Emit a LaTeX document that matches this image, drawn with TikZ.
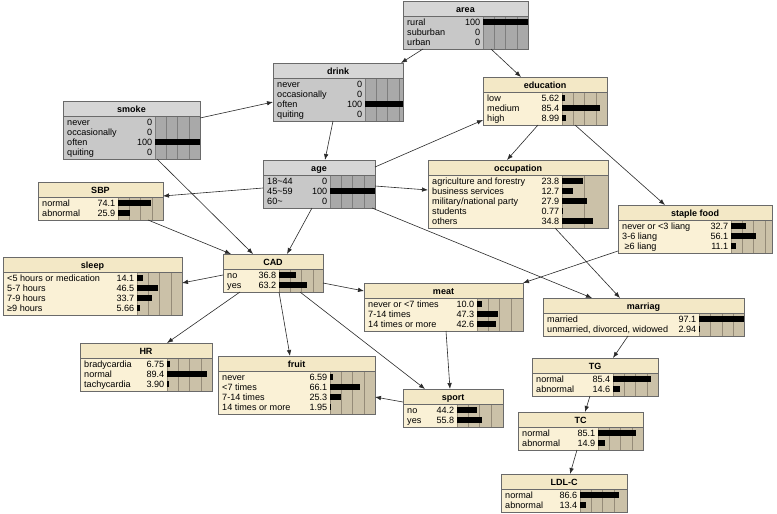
\documentclass[tikz,border=0pt]{standalone}
\usepackage{fontspec}
\setmainfont{Liberation Sans}
\usetikzlibrary{calc,arrows.meta}
\definecolor{gtitle}{HTML}{D6D6D6}
\definecolor{gbody}{HTML}{C8C8C8}
\definecolor{gbar}{HTML}{A9A9A9}
\definecolor{ggrid}{HTML}{7E7E7E}
\definecolor{btitle}{HTML}{F3E8C6}
\definecolor{bbody}{HTML}{FAF1D6}
\definecolor{bbar}{HTML}{CBC1A8}
\definecolor{bgrid}{HTML}{958B78}
\definecolor{nborder}{HTML}{6A6A6A}
\definecolor{edgec}{HTML}{2A2A2A}
\tikzset{
 netbox/.style={draw=nborder, line width=0.7pt, inner sep=0pt, outer sep=0pt},
 titletext/.style={font=\fontsize{9}{10}\selectfont\bfseries, inner sep=0pt, anchor=base},
 rowtext/.style={font=\fontsize{9.1}{10}\selectfont, inner sep=0pt},
 edge/.style={draw=edgec, line width=0.6pt, -{Latex[length=6pt,width=4.5pt]}},
}
% #1 name #2 left #3 top #4 right #5 nrows #6 barx #7 scale #8 kind #9 title
\newcommand\NN[9]{%
 \pgfmathsetmacro\tmpbot{#3+18+10*#5}%
 \pgfmathsetmacro\tmplim{#4-3}%
 \xdef\NBot{\tmpbot}\xdef\NTop{#3}\xdef\NLeft{#2}\xdef\NRight{#4}\xdef\NBx{#6}\xdef\NSc{#7}\xdef\NLim{\tmplim}%
 \fill[#8body] (#2,#3) rectangle (#6,\NBot);
 \fill[#8bar] (#6,#3) rectangle (#4,\NBot);
 \fill[#8title] (#2,#3) rectangle (#4,#3+15);
 \foreach \q in {0,25,50,75}{\pgfmathsetmacro\gx{#6+\q*#7}\ifdim\gx pt<\NLim pt\relax\draw[#8grid,line width=0.5pt] (\gx,#3+15) -- (\gx,\NBot);\fi}
 \draw[nborder,line width=0.7pt] (#2,#3+15) -- (#4,#3+15);
 \node[netbox, minimum width={(#4-#2)*1pt}, minimum height={(\NBot-#3)*1pt}, anchor=north west] (#1) at (#2,#3) {};
 \node[titletext] at ({(#2+#4)/2},#3+11.2) {#9};
}
% #1 index #2 label #3 value text #4 numeric
\newcommand\NRow[4]{%
 \pgfmathsetmacro\ry{\NTop+11+10*#1}%
 \pgfmathsetmacro\bl{min(#4*\NSc,\NRight-\NBx)}%
 \node[rowtext, anchor=base west] at (\NLeft+4,\ry+3.3) {#2};
 \node[rowtext, anchor=base east] at (\NBx-2.5,\ry+3.3) {#3};
 \ifdim\bl pt>0.05pt\relax \fill[black] (\NBx,\ry-2.8) rectangle (\NBx+\bl,\ry+2.8);\fi
}
\begin{document}
\begin{tikzpicture}[x=1pt,y=-1pt]
\fill[white] (0,0) rectangle (777,514);
\useasboundingbox (0,0) rectangle (777,514);

\NN{area}{403}{1}{528}{3}{483}{0.45}{g}{area}
\NRow{1}{rural}{100}{100}
\NRow{2}{suburban}{0}{0}
\NRow{3}{urban}{0}{0}

\NN{drink}{273}{63}{403}{4}{365}{0.45}{g}{drink}
\NRow{1}{never}{0}{0}
\NRow{2}{occasionally}{0}{0}
\NRow{3}{often}{100}{100}
\NRow{4}{quiting}{0}{0}

\NN{smoke}{63}{101}{200}{4}{155}{0.45}{g}{smoke}
\NRow{1}{never}{0}{0}
\NRow{2}{occasionally}{0}{0}
\NRow{3}{often}{100}{100}
\NRow{4}{quiting}{0}{0}

\NN{education}{483}{77}{607}{3}{562}{0.45}{b}{education}
\NRow{1}{low}{5.62}{5.62}
\NRow{2}{medium}{85.4}{85.4}
\NRow{3}{high}{8.99}{8.99}

\NN{age}{263}{160}{375}{3}{330}{0.45}{g}{age}
\NRow{1}{18\textasciitilde 44}{0}{0}
\NRow{2}{45\textasciitilde 59}{100}{100}
\NRow{3}{60\textasciitilde}{0}{0}

\NN{occupation}{428}{160}{608}{5}{562}{0.88}{b}{occupation}
\NRow{1}{agriculture and forestry}{23.8}{23.8}
\NRow{2}{business services}{12.7}{12.7}
\NRow{3}{military/national party}{27.9}{27.9}
\NRow{4}{students}{0.77}{0.77}
\NRow{5}{others}{34.8}{34.8}

\NN{SBP}{38}{182}{163}{2}{118}{0.45}{b}{SBP}
\NRow{1}{normal}{74.1}{74.1}
\NRow{2}{abnormal}{25.9}{25.9}

\NN{staple}{618}{205}{772}{3}{731}{0.45}{b}{staple food}
\NRow{1}{never or <3 liang}{32.7}{32.7}
\NRow{2}{3-6 liang}{56.1}{56.1}
\NRow{3}{\ ≥6 liang}{11.1}{11.1}

\NN{sleep}{3}{257}{182}{4}{137}{0.45}{b}{sleep}
\NRow{1}{<5 hours or medication}{14.1}{14.1}
\NRow{2}{5-7 hours}{46.5}{46.5}
\NRow{3}{7-9 hours}{33.7}{33.7}
\NRow{4}{≥9 hours}{5.66}{5.66}

\NN{CAD}{223}{254}{323}{2}{279}{0.45}{b}{CAD}
\NRow{1}{no}{36.8}{36.8}
\NRow{2}{yes}{63.2}{63.2}

\NN{meat}{364}{283}{523}{3}{477}{0.45}{b}{meat}
\NRow{1}{never or <7 times}{10.0}{10.0}
\NRow{2}{7-14 times}{47.3}{47.3}
\NRow{3}{14 times or more}{42.6}{42.6}

\NN{marriag}{543}{298}{744}{2}{699}{0.46}{b}{marriag}
\NRow{1}{married}{97.1}{97.1}
\NRow{2}{unmarried, divorced, widowed}{2.94}{2.94}

\NN{HR}{80}{343}{212}{3}{167}{0.45}{b}{HR}
\NRow{1}{bradycardia}{6.75}{6.75}
\NRow{2}{normal}{89.4}{89.4}
\NRow{3}{tachycardia}{3.90}{3.90}

\NN{fruit}{218}{356}{375}{4}{330}{0.45}{b}{fruit}
\NRow{1}{never}{6.59}{6.59}
\NRow{2}{<7 times}{66.1}{66.1}
\NRow{3}{7-14 times}{25.3}{25.3}
\NRow{4}{14 times or more}{1.95}{1.95}

\NN{sport}{403}{389}{503}{2}{457}{0.45}{b}{sport}
\NRow{1}{no}{44.2}{44.2}
\NRow{2}{yes}{55.8}{55.8}

\NN{TG}{532}{358}{658}{2}{613}{0.45}{b}{TG}
\NRow{1}{normal}{85.4}{85.4}
\NRow{2}{abnormal}{14.6}{14.6}

\NN{TC}{518}{412}{643}{2}{598}{0.45}{b}{TC}
\NRow{1}{normal}{85.1}{85.1}
\NRow{2}{abnormal}{14.9}{14.9}

\NN{LDLC}{501}{474}{627}{2}{580}{0.45}{b}{LDL-C}
\NRow{1}{normal}{86.6}{86.6}
\NRow{2}{abnormal}{13.4}{13.4}

% connectors
\draw[edge] ($(area.north west)+(20,48)$) -- ($(drink.north west)+(128,0)$);
\draw[edge] ($(area.north west)+(88,48)$) -- ($(education.north west)+(38,0)$);
\draw[edge] ($(smoke.north west)+(137,17)$) -- ($(drink.north west)+(0,39)$);
\draw[edge] ($(drink.north west)+(60,58)$) -- ($(age.north west)+(62,0)$);
\draw[edge] ($(age.north west)+(112,7)$) -- ($(education.north west)+(0,43)$);
\draw[edge] ($(age.north west)+(112,26)$) -- ($(occupation.north west)+(0,30)$);
\draw[edge] ($(age.north west)+(0,28)$) -- ($(SBP.north west)+(125,14)$);
\draw[edge] ($(age.north west)+(109,48)$) -- ($(marriag.north west)+(49,0)$);
\draw[edge] ($(age.north west)+(49,48)$) -- ($(CAD.north west)+(64,0)$);
\draw[edge] ($(smoke.north west)+(94,58)$) -- ($(CAD.north west)+(30,0)$);
\draw[edge] ($(SBP.north west)+(110,38)$) -- ($(CAD.north west)+(8,0)$);
\draw[edge] ($(education.north west)+(55,48)$) -- ($(occupation.north west)+(79,0)$);
\draw[edge] ($(education.north west)+(92,48)$) -- ($(staple.north west)+(47,0)$);
\draw[edge] ($(occupation.north west)+(127,68)$) -- ($(marriag.north west)+(77,0)$);
\draw[edge] ($(staple.north west)+(0,46)$) -- ($(meat.north west)+(159,0)$);
\draw[edge] ($(CAD.north west)+(0,21)$) -- ($(sleep.north west)+(179,26)$);
\draw[edge] ($(CAD.north west)+(100,29)$) -- ($(meat.north west)+(0,8)$);
\draw[edge] ($(CAD.north west)+(17,38)$) -- ($(HR.north west)+(87,0)$);
\draw[edge] ($(CAD.north west)+(56,38)$) -- ($(fruit.north west)+(72,0)$);
\draw[edge] ($(CAD.north west)+(77,38)$) -- ($(sport.north west)+(22,0)$);
\draw[edge] ($(meat.north west)+(82,48)$) -- ($(sport.north west)+(47,0)$);
\draw[edge] ($(sport.north west)+(0,13)$) -- ($(fruit.north west)+(157,41)$);
\draw[edge] ($(marriag.north west)+(85,38)$) -- ($(TG.north west)+(81,0)$);
\draw[edge] ($(TG.north west)+(58,38)$) -- ($(TC.north west)+(67,0)$);
\draw[edge] ($(TC.north west)+(59,38)$) -- ($(LDLC.north west)+(69,0)$);
\end{tikzpicture}
\end{document}
